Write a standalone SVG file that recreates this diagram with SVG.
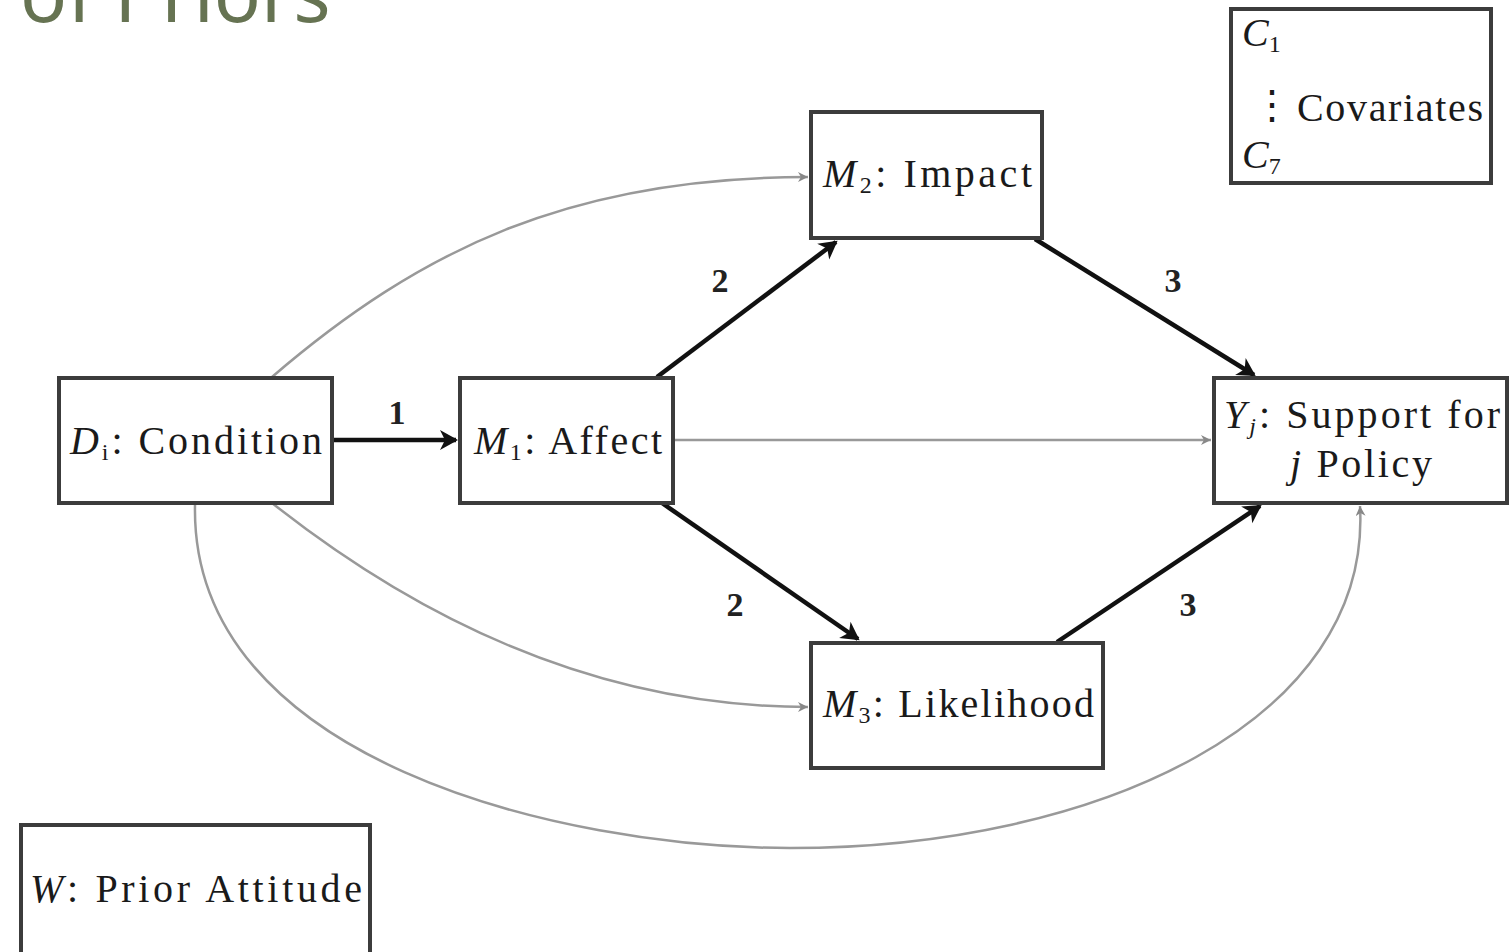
<svg xmlns="http://www.w3.org/2000/svg" width="1509" height="952" viewBox="0 0 1509 952">
<style>
.box{fill:#fff;stroke:#3c3c3c;stroke-width:4}
.t{font-family:"Liberation Serif",serif;font-size:40px;fill:#1a1a1a}
.i{font-style:italic}
.s{font-size:24px}
.lbl{font-family:"Liberation Serif",serif;font-size:34px;font-weight:bold;fill:#222}
.thick{fill:none;stroke:#111;stroke-width:4.5}
.thin{fill:none;stroke:#999;stroke-width:2.5}
.head{font-family:"Noto Sans","DejaVu Sans",sans-serif;font-size:78px;fill:#667352}
</style>
<defs>
<marker id="ab" viewBox="-18 -14 22 28" refX="0" refY="0" markerWidth="22" markerHeight="28" markerUnits="userSpaceOnUse" orient="auto">
<path d="M-16,-10 L2,0 L-16,10 L-11,0 Z" fill="#111"/>
</marker>
<marker id="ag" viewBox="0 0 10 10" refX="10" refY="5" markerWidth="10" markerHeight="10" markerUnits="userSpaceOnUse" orient="auto">
<path d="M0,0 L10,5 L0,10 L3,5 Z" fill="#888"/>
</marker>
</defs>
<rect width="1509" height="952" fill="#fff"/>
<text class="head" x="20" y="22">of Priors</text>

<g id="connectors">
<path class="thin" d="M272,377 C420,250 570,177 808,177" marker-end="url(#ag)"/>
<path class="thin" d="M272,503 C420,620 600,707 808,707" marker-end="url(#ag)"/>
<path class="thin" d="M195,505 C190,760 560,848 790,848 C1100,848 1372,720 1360,506" marker-end="url(#ag)"/>
<path class="thin" d="M673,440 L1211,440" marker-end="url(#ag)"/>
<path class="thick" d="M332,440 L456,440" marker-end="url(#ab)"/>
<path class="thick" d="M657,377 L836,242" marker-end="url(#ab)"/>
<path class="thick" d="M1035,239 L1254,375" marker-end="url(#ab)"/>
<path class="thick" d="M662,503 L858,639" marker-end="url(#ab)"/>
<path class="thick" d="M1057,642 L1260,506" marker-end="url(#ab)"/>
<text class="lbl" x="397" y="424" text-anchor="middle">1</text>
<text class="lbl" x="720" y="292" text-anchor="middle">2</text>
<text class="lbl" x="1173" y="292" text-anchor="middle">3</text>
<text class="lbl" x="735" y="616" text-anchor="middle">2</text>
<text class="lbl" x="1188" y="616" text-anchor="middle">3</text>
</g>

<g id="node-D">
<rect class="box" x="59" y="378" width="273" height="125"/>
<text class="t" x="70" y="454" textLength="252" lengthAdjust="spacing"><tspan class="i">D</tspan><tspan class="s" dy="6">i</tspan><tspan dy="-6">:  Condition</tspan></text>
</g>
<g id="node-M1">
<rect class="box" x="460" y="378" width="213" height="125"/>
<text class="t" x="474" y="454" textLength="188" lengthAdjust="spacing"><tspan class="i">M</tspan><tspan class="s" dy="6">1</tspan><tspan dy="-6">:  Affect</tspan></text>
</g>
<g id="node-M2">
<rect class="box" x="811" y="112" width="231" height="126"/>
<text class="t" x="823" y="187" textLength="209" lengthAdjust="spacing"><tspan class="i">M</tspan><tspan class="s" dy="6">2</tspan><tspan dy="-6">:  Impact</tspan></text>
</g>
<g id="node-M3">
<rect class="box" x="811" y="643" width="292" height="125"/>
<text class="t" x="823" y="717" textLength="271" lengthAdjust="spacing"><tspan class="i">M</tspan><tspan class="s" dy="6">3</tspan><tspan dy="-6">:  Likelihood</tspan></text>
</g>
<g id="node-Y">
<rect class="box" x="1214" y="378" width="293" height="125"/>
<text class="t" x="1224" y="428" textLength="276" lengthAdjust="spacing"><tspan class="i">Y</tspan><tspan class="s i" dy="6">j</tspan><tspan dy="-6">:  Support for</tspan></text>
<text class="t" x="1290" y="477" textLength="142" lengthAdjust="spacing"><tspan class="i">j</tspan> Policy</text>
</g>
<g id="node-C">
<rect class="box" x="1231" y="9" width="260" height="174"/>
<text class="t" x="1242" y="46"><tspan class="i">C</tspan><tspan class="s" dy="6">1</tspan></text>
<text class="t" x="1252" y="118">⋮</text>
<text class="t" x="1297" y="121" textLength="186" lengthAdjust="spacing">Covariates</text>
<text class="t" x="1242" y="168"><tspan class="i">C</tspan><tspan class="s" dy="6">7</tspan></text>
</g>
<g id="node-W">
<rect class="box" x="21" y="825" width="349" height="130"/>
<text class="t" x="30" y="902" textLength="332" lengthAdjust="spacing"><tspan class="i">W</tspan>:  Prior Attitude</text>
</g>
</svg>
